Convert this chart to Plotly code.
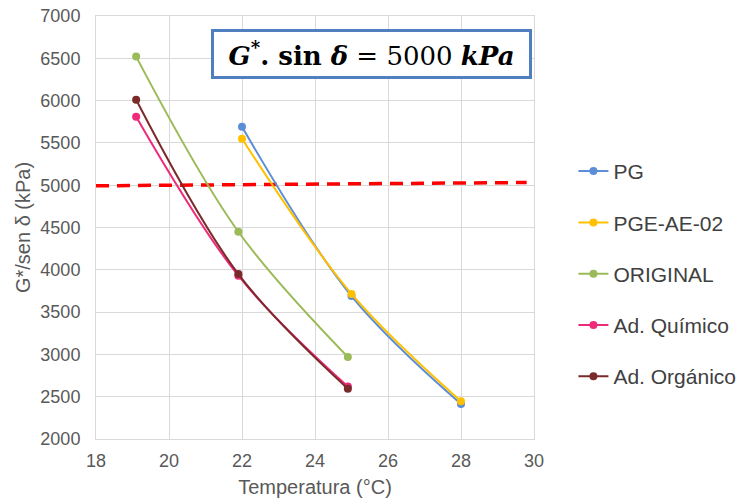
import plotly.graph_objects as go

# Data
pg_x = [22.0, 25.0, 28.0]
pg_y = [5690, 3690, 2415]
pge_x = [22.0, 25.0, 28.0]
pge_y = [5550, 3715, 2445]
orig_x = [19.1, 21.9, 24.9]
orig_y = [6520, 4450, 2970]
quim_x = [19.1, 21.9, 24.9]
quim_y = [5810, 3930, 2620]
org_x = [19.1, 21.9, 24.9]
org_y = [6010, 3950, 2595]
ref_x = [18.0, 29.8]
ref_y = [4993, 5032]

names = ["PG", "PGE-AE-02", "ORIGINAL", "Ad. Químico", "Ad. Orgánico"]
colors = ["#5B8ED6", "#FFC000", "#9BBB59", "#EE2A7B", "#7B2A2A"]
xs = [pg_x, pge_x, orig_x, quim_x, org_x]
ys = [pg_y, pge_y, orig_y, quim_y, org_y]

fig = go.Figure()

fig.add_trace(go.Scatter(x=ref_x, y=ref_y, mode="lines", showlegend=False,
                         line=dict(color="#FF0000", width=3.5, dash="13px,8px"),
                         hoverinfo="skip"))

for i, (n, c, x, y) in enumerate(zip(names, colors, xs, ys)):
    fig.add_trace(go.Scatter(x=x, y=y, mode="lines+markers", name=n,
                             legendgroup=f"g{i}",
                             line=dict(color=c, width=2, shape="spline", smoothing=1.0),
                             marker=dict(color=c, size=8)))

fig.add_annotation(xref="paper", yref="paper", x=0.629, y=0.909,
                   xanchor="center", yanchor="middle",
                   text="<b><i>G</i><sup>*</sup>. sin <i>δ</i></b> = 5000 <b><i>kPa</i></b>",
                   font=dict(family="DejaVu Serif", size=26, color="#000000"),
                   showarrow=False, bordercolor="#4F7FBF", borderwidth=3,
                   borderpad=4, bgcolor="#FFFFFF", width=307, height=36)

fig.update_layout(
    width=741, height=503,
    margin=dict(l=96, r=207, t=16, b=64, autoexpand=False),
    paper_bgcolor="#FFFFFF", plot_bgcolor="#FFFFFF",
    font=dict(family="Liberation Sans, Arial", size=17, color="#595959"),
    legend=dict(x=1.09, y=0.681, xanchor="left", yanchor="top",
                tracegroupgap=21, font=dict(size=21, color="#404040"),
                itemwidth=30),
    showlegend=True,
)
fig.update_xaxes(range=[18, 30], dtick=2, showgrid=True, gridcolor="#D9D9D9",
                 showline=True, linecolor="#D9D9D9", mirror=True, zeroline=False,
                 ticks="", ticklabelstandoff=5,
                 title=dict(text="Temperatura (°C)", font=dict(size=20), standoff=10),
                 tickfont=dict(size=18))
fig.update_yaxes(range=[2000, 7000], dtick=500, showgrid=True, gridcolor="#D9D9D9",
                 showline=True, linecolor="#D9D9D9", mirror=True, zeroline=False,
                 ticks="", ticklabelstandoff=11,
                 title=dict(text="G*/sen δ (kPa)", font=dict(size=20), standoff=4),
                 tickfont=dict(size=18))

fig.write_html("out.html")
